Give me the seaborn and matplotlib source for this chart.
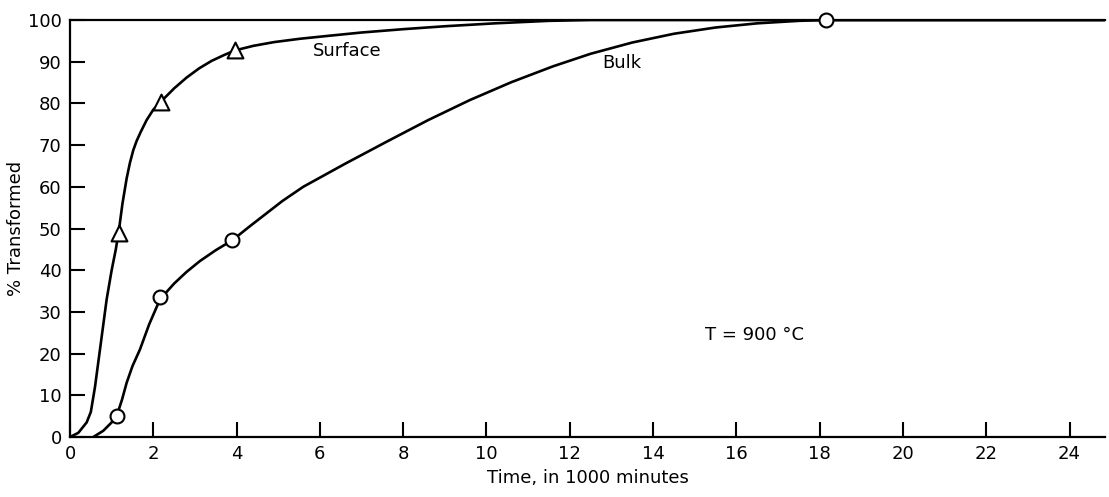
import matplotlib
matplotlib.use("Agg")
import matplotlib.pyplot as plt
import seaborn as sns

# ---- data ----
surface_curve_x = [0, 0.2, 0.4, 0.5, 0.6, 0.72, 0.88, 1.0, 1.1, 1.18, 1.26, 1.36, 1.44, 1.52, 1.6,
                   1.7, 1.84, 2.0, 2.18, 2.5, 2.8, 3.1, 3.4, 3.7, 3.96, 4.4, 4.9, 5.52, 6.2, 7.0,
                   8.0, 9.0, 10.2, 11.5, 12.5, 24.85]
surface_curve_y = [0, 1, 3.5, 6, 12, 21, 33, 40, 45, 50, 56, 62, 65.8, 68.8, 71,
                   73.2, 76, 78.5, 80.4, 83.6, 86.2, 88.4, 90.2, 91.6, 92.7, 93.8, 94.7, 95.5, 96.2, 97,
                   97.8, 98.5, 99.2, 99.8, 100, 100]
bulk_curve_x = [0.56, 0.8, 1.0, 1.12, 1.25, 1.36, 1.5, 1.68, 1.9, 2.16, 2.5, 2.8, 3.12, 3.5, 3.9,
                4.3, 4.7, 5.1, 5.6, 6.6, 7.6, 8.6, 9.6, 10.6, 11.6, 12.5, 13.5, 14.5, 15.5,
                16.5, 17.5, 18.15, 24.85]
bulk_curve_y = [0, 1.5, 3.5, 5, 9, 13, 17, 21, 27, 33, 36.8, 39.6, 42.2, 44.8, 47.2,
                50.4, 53.5, 56.6, 60, 65.5, 70.8, 76, 80.8, 85.1, 88.9, 91.9, 94.6, 96.7, 98.2,
                99.2, 99.8, 100, 100]

surface_pts_x = [1.18, 2.18, 3.96]
surface_pts_y = [49, 80.4, 92.8]
bulk_pts_x = [1.12, 2.16, 3.9, 18.15]
bulk_pts_y = [5, 33.5, 47.2, 100]

x_ticks = list(range(0, 25, 2))
y_ticks = list(range(0, 101, 10))

sns.set_style("ticks")
plt.rcParams['font.family'] = ['DejaVu Sans']
plt.rcParams['text.color'] = 'black'
plt.rcParams['axes.labelcolor'] = 'black'

fig = plt.figure(figsize=(11.09, 4.97), dpi=100)
ax = fig.add_axes([70 / 1109, 1 - 437 / 497, (1105 - 70) / 1109, (437 - 20) / 497])

sns.lineplot(x=surface_curve_x, y=surface_curve_y, ax=ax, color="black", lw=1.9,
             sort=False, estimator=None)
sns.lineplot(x=bulk_curve_x, y=bulk_curve_y, ax=ax, color="black", lw=1.9,
             sort=False, estimator=None)
sns.scatterplot(x=surface_pts_x, y=surface_pts_y, ax=ax, marker="^", s=130,
                facecolor="white", edgecolor="black", linewidth=1.5, zorder=5)
sns.scatterplot(x=bulk_pts_x, y=bulk_pts_y, ax=ax, marker="o", s=100,
                facecolor="white", edgecolor="black", linewidth=1.5, zorder=5, clip_on=False)

ax.set_xlim(0, 24.85)
ax.set_ylim(0, 100)
ax.set_xticks(x_ticks)
ax.set_yticks(y_ticks)
ax.set_xticklabels([str(t) for t in x_ticks], fontsize=13)
ax.set_yticklabels([str(t) for t in y_ticks], fontsize=13)
ax.tick_params(direction="in", length=11, width=1.5, colors="black", pad=6)

for side in ["left", "bottom", "top"]:
    ax.spines[side].set_linewidth(1.6)
    ax.spines[side].set_color("black")
ax.spines["right"].set_visible(False)

ax.set_xlabel("Time, in 1000 minutes", fontsize=13, labelpad=4, color="black")
ax.set_ylabel("% Transformed", fontsize=13, labelpad=2, color="black")

ax.text(5.83, 92.6, "Surface", fontsize=13, va="center", ha="left", color="black")
ax.text(12.77, 89.8, "Bulk", fontsize=13, va="center", ha="left", color="black")
ax.text(15.24, 24.5, "T = 900 °C", fontsize=13, va="center", ha="left", color="black")

fig.savefig("out.png", dpi=100)
